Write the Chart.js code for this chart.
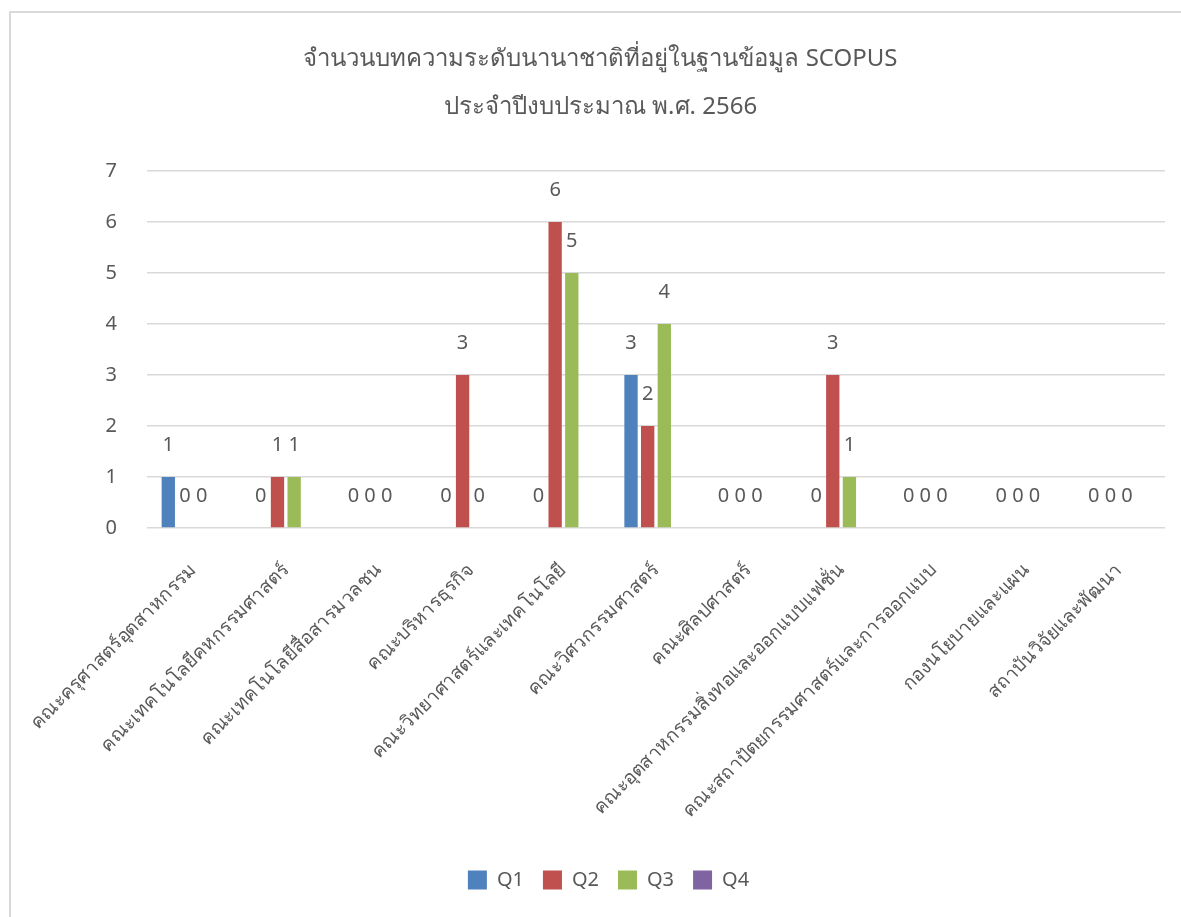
<!DOCTYPE html>
<html>
<head>
<meta charset="utf-8">
<script src="https://cdn.jsdelivr.net/npm/chart.js@4.4.0/dist/chart.umd.min.js"></script>
<style>
  html, body { margin: 0; padding: 0; background: #ffffff; overflow: hidden; }
  #wrap { position: absolute; left: 0; top: 0; width: 1181px; height: 917px; }
  #frame { position: absolute; left: 9px; top: 11px; width: 1300px; height: 1000px; border-left: 2px solid #D9D9D9; border-top: 2px solid #D9D9D9; box-sizing: border-box; pointer-events: none; }
</style>
</head>
<body>
<div id="wrap"><canvas id="c" width="1181" height="917"></canvas></div>
<div id="frame"></div>
<script>
const titleLines = ['จำนวนบทความระดับนานาชาติที่อยู่ในฐานข้อมูล SCOPUS', 'ประจำปีงบประมาณ พ.ศ. 2566'];
const categories = [
  'คณะครุศาสตร์อุตสาหกรรม',
  'คณะเทคโนโลยีคหกรรมศาสตร์',
  'คณะเทคโนโลยีสื่อสารมวลชน',
  'คณะบริหารธุรกิจ',
  'คณะวิทยาศาสตร์และเทคโนโลยี',
  'คณะวิศวกรรมศาสตร์',
  'คณะศิลปศาสตร์',
  'คณะอุตสาหกรรมสิ่งทอและออกแบบแฟชั่น',
  'คณะสถาปัตยกรรมศาสตร์และการออกแบบ',
  'กองนโยบายและแผน',
  'สถาบันวิจัยและพัฒนา'
];
const seriesNames = ['Q1', 'Q2', 'Q3', 'Q4'];
const q1 = [1, 0, 0, 0, 0, 3, 0, 0, 0, 0, 0];
const q2 = [0, 1, 0, 3, 6, 2, 0, 3, 0, 0, 0];
const q3 = [0, 1, 0, 0, 5, 4, 0, 1, 0, 0, 0];
const q4 = [null, null, null, null, null, null, null, null, null, null, null];
const yTicks = [0, 1, 2, 3, 4, 5, 6, 7];
const colors = ['#4F81BD', '#C0504D', '#9BBB59', '#8064A2'];

const FONT = '"Noto Sans", sans-serif';
const TXT = '#595959';

const valueLabels = {
  id: 'valueLabels',
  afterDatasetsDraw(chart) {
    const ctx = chart.ctx;
    ctx.save();
    ctx.font = '20px ' + FONT;
    ctx.fillStyle = TXT;
    ctx.textAlign = 'center';
    ctx.textBaseline = 'middle';
    chart.data.datasets.forEach((ds, di) => {
      const meta = chart.getDatasetMeta(di);
      meta.data.forEach((bar, i) => {
        const v = ds.data[i];
        if (v === null || v === undefined) return;
        ctx.fillText(String(v), bar.x, bar.y - 32);
      });
    });
    ctx.restore();
  }
};

const boxShift = {
  id: 'boxShift',
  afterLayout(chart) {
    if (chart.legend) {
      chart.legend.left += 26;
      chart.legend.right += 26;
    }
    if (chart.titleBlock) {
      chart.titleBlock.left += 18;
      chart.titleBlock.right += 18;
    }
  }
};

const dataSets = [q1, q2, q3, q4].map((d, i) => ({
  label: seriesNames[i],
  data: d,
  backgroundColor: colors[i],
  borderWidth: 0,
  categoryPercentage: 0.72,
  barPercentage: 0.8
}));

new Chart(document.getElementById('c'), {
  type: 'bar',
  data: { labels: categories, datasets: dataSets },
  options: {
    responsive: false,
    animation: false,
    layout: { padding: { left: 0, right: 16, top: 0, bottom: 17 } },
    plugins: {
      title: {
        display: true,
        text: titleLines,
        color: TXT,
        font: { family: FONT, size: 24, weight: 'normal', lineHeight: 2.0 },
        padding: { top: 35, bottom: 40 }
      },
      legend: {
        display: true,
        position: 'bottom',
        labels: {
          color: TXT,
          font: { family: FONT, size: 20 },
          boxWidth: 19,
          boxHeight: 19,
          padding: 19
        }
      },
      tooltip: { enabled: false }
    },
    scales: {
      x: {
        grid: { display: false },
        border: { display: false },
        ticks: {
          color: TXT,
          font: { family: FONT, size: 19 },
          maxRotation: 45,
          minRotation: 45,
          padding: 23,
          autoSkip: false
        },
        afterFit(scale) {
          scale.height = 323;
          scale.paddingLeft = 0;
          scale.paddingRight = 0;
        }
      },
      y: {
        min: 0,
        max: 7,
        grid: { color: '#D9D9D9', lineWidth: 1.5, drawTicks: false },
        border: { display: false },
        afterBuildTicks(scale) { scale.ticks = yTicks.map(v => ({ value: v })); },
        ticks: {
          color: TXT,
          font: { family: FONT, size: 20 },
          padding: 30
        },
        afterFit(scale) { scale.width = 147; }
      }
    }
  },
  plugins: [valueLabels, boxShift]
});
</script>
</body>
</html>
